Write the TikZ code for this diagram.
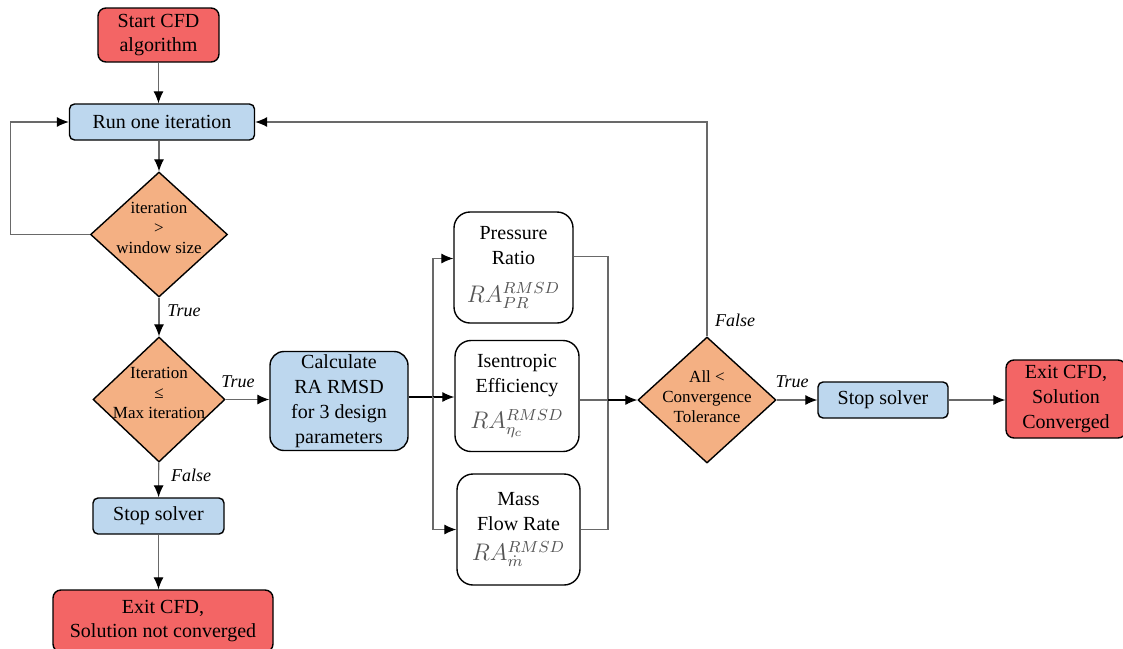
\documentclass[tikz,border=0pt]{standalone}
\usepackage{fontspec}
\setmainfont{Liberation Serif}
\usetikzlibrary{shapes.geometric,arrows.meta}

\definecolor{termred}{RGB}{243,101,101}
\definecolor{procblue}{RGB}{189,215,238}
\definecolor{testorange}{RGB}{244,176,131}
\definecolor{linegrey}{RGB}{105,105,105}
\definecolor{mathgrey}{RGB}{85,85,85}

\newcommand{\rmsdlabel}[1]{\textcolor{mathgrey}{\fontsize{11.5}{12}\selectfont$RA^{RMSD}_{#1}$}}

\begin{document}
\begin{tikzpicture}[x=0.5pt,y=-0.5pt,
	every node/.style={font=\fontsize{10}{12.4}\selectfont},
	termbox/.style={draw, line width=0.7pt, fill=termred, rounded corners=4pt, align=center, inner sep=0pt},
	procbox/.style={draw, line width=0.7pt, fill=procblue, rounded corners=2.5pt, align=center, inner sep=0pt},
	parambox/.style={draw, line width=0.7pt, fill=white, rounded corners=8pt, align=center, inner sep=0pt, minimum height=55.5pt},
	decision/.style={draw, line width=0.7pt, fill=testorange, diamond, inner sep=0pt},
	dtext/.style={align=center, inner sep=0pt, font=\fontsize{8.5}{10}\selectfont},
	flow/.style={draw=linegrey, line width=0.55pt, -{Latex[color=black,length=6pt,width=5pt]}},
	link/.style={draw=linegrey, line width=0.55pt},
	cond/.style={font=\fontsize{9}{11}\selectfont\itshape},
	]
	\useasboundingbox (0,0) rectangle (1123,648);
	
	% left column
	\node[termbox, minimum width=60.5pt, minimum height=27pt] (start) at (158.5,35) {Start CFD\\algorithm};
	\node[procbox, minimum width=92.5pt, minimum height=18pt] (run) at (162,122) {Run one iteration};
	\node[decision, minimum width=68.5pt, minimum height=62.5pt,
		label={[dtext, yshift=3.5pt]center:iteration\\>\\window size}] (window) at (159,234.5) {};
	\node[decision, minimum width=66pt, minimum height=62.5pt,
		label={[dtext, yshift=3.5pt]center:Iteration\\≤\\Max iteration}] (maxit) at (159,399.5) {};
	\node[procbox, minimum width=65.5pt, minimum height=18pt] (stopl) at (158.5,516) {Stop solver};
	\node[termbox, minimum width=110pt, minimum height=31pt] (exitl) at (163,621) {Exit CFD,\\Solution not converged};
	
	% RMSD of the design parameters
	\node[procbox, rounded corners=7pt, minimum width=69pt, minimum height=49.5pt] (calc) at (339,401) {Calculate\\RA RMSD\\for 3 design\\parameters};
	\node[parambox, minimum width=59.5pt] (pr) at (513.5,267.5) {Pressure\\Ratio\\[6.5pt]\rmsdlabel{PR}};
	\node[parambox, minimum width=62pt] (iso) at (517,396) {Isentropic\\Efficiency\\[6pt]\rmsdlabel{\eta_c}};
	\node[parambox, minimum width=61.5pt] (mass) at (518.5,529.5) {Mass\\Flow Rate\\[3pt]\rmsdlabel{\dot m}};
	
	% convergence test
	\node[decision, minimum width=69pt, minimum height=63pt,
		label={[dtext, yshift=1.5pt]center:All <\\Convergence\\Tolerance}] (tol) at (707,400) {};
	\node[procbox, minimum width=65pt, minimum height=18pt] (stopr) at (883,400) {Stop solver};
	\node[termbox, minimum width=60pt, minimum height=39pt] (exitr) at (1066,399) {Exit CFD,\\Solution\\Converged};
	
	% branch and merge points
	\coordinate (split) at (433,397);
	\coordinate (join) at (608,400);
	
	% arrows, left column
	\draw[flow] (start) -- (start |- run.north);
	\draw[flow] (run.south -| window) -- (window);
	\draw[flow] (window.west) -- ++(-79,0) |- (run.west);
	\draw[flow] (window) -- (maxit);
	\draw[flow] (maxit) -- (calc.west |- maxit);
	\draw[flow] (maxit) -- (stopl);
	\draw[flow] (stopl) -- (stopl |- exitl.north);
	
	% fan out to the three parameters
	\draw[line width=0.8pt] (calc.east |- split) -- (split);
	\draw[flow] (split) |- ([yshift=4.5pt]pr.west);
	\draw[flow, draw=black] (split) -- (split -| iso.west);
	\draw[flow] (split) |- (mass.west);
	
	% and back in
	\draw[link] ([yshift=5.5pt]pr.east) -| (join);
	\draw[link] (iso.east |- join) -- (join);
	\draw[link] (mass.east) -| (join);
	\draw[flow, draw=black] (join) -- (tol.west);
	\draw[flow] (tol.north) |- (run.east);
	\draw[flow] (tol) -- (stopr);
	\draw[flow] (stopr) -- (exitr.west |- stopr);
	
	% labels
	\node[cond] (true1) at (184,311) {True};
	\node[cond] (true2) at (238,382) {True};
	\node[cond] (false1) at (191,475) {False};
	\node[cond] (false2) at (735,320) {False};
	\node[cond] (true3) at (792,382) {True};
\end{tikzpicture}
\end{document}
